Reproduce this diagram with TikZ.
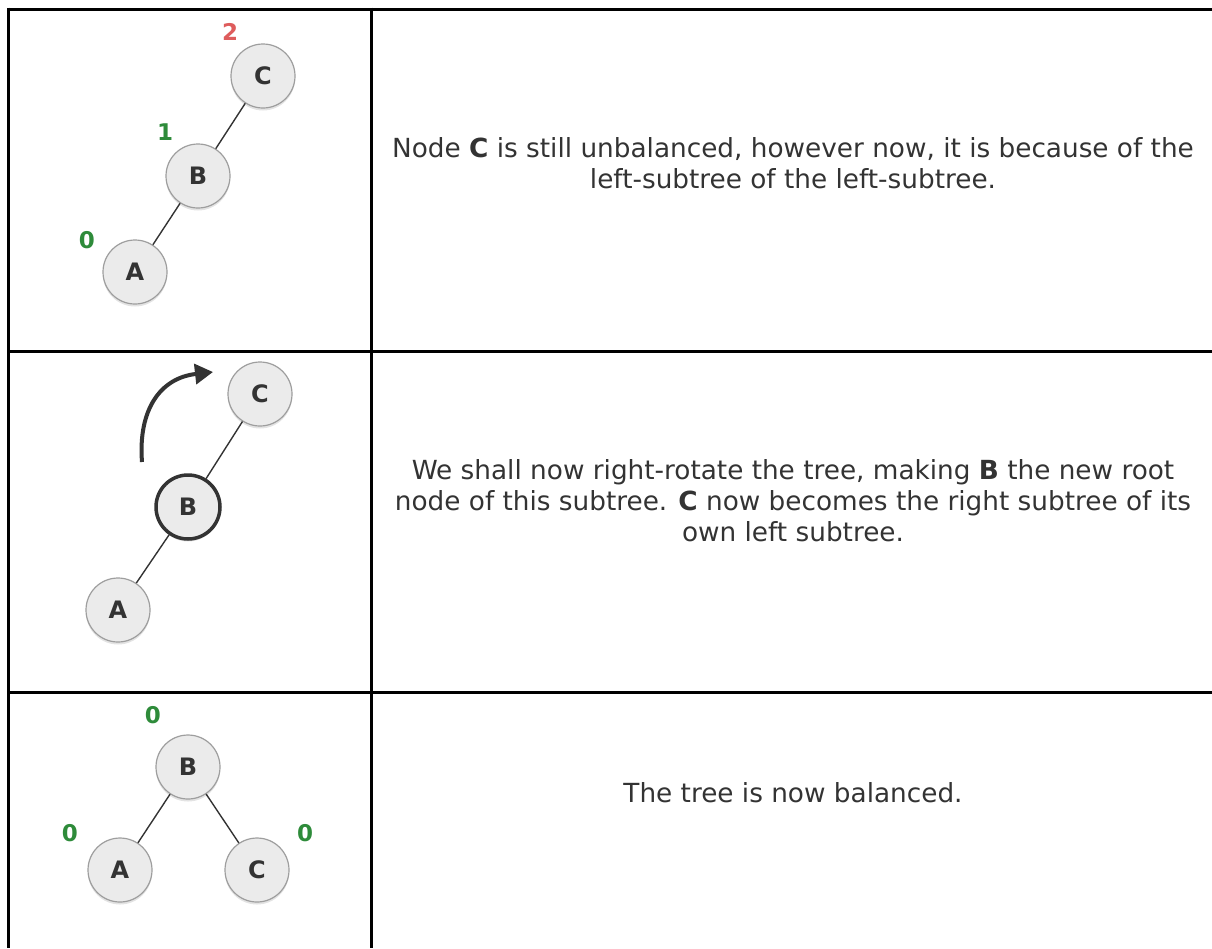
\documentclass[tikz,border=0pt]{standalone}
\usepackage{fontspec}
\setmainfont{DejaVu Sans}
\usetikzlibrary{arrows.meta,shadows}
\definecolor{balgreen}{RGB}{46,139,58}
\definecolor{balred}{RGB}{222,92,92}
\definecolor{inkgray}{RGB}{51,51,51}

\begin{document}
\begin{tikzpicture}[
    x=1pt, y=-1pt,
    vert/.style={circle, draw=black!38, line width=1.2pt, fill=black!8, minimum size=64pt, inner sep=0pt,
                 font=\fontsize{24}{24}\selectfont\bfseries, text=inkgray,
                 drop shadow={shadow xshift=0pt, shadow yshift=-2.5pt, opacity=0.22}},
    pivot/.style={vert, draw=inkgray, line width=3.5pt},
    bal/.style={font=\fontsize{23}{23}\selectfont\bfseries, text=balgreen},
    edge/.style={draw=inkgray, line width=1.4pt},
    rule/.style={line width=3pt},
    desc/.style={align=center, font=\fontsize{26.3}{31}\selectfont, text=inkgray},
    rot/.style={-{Triangle[length=18pt, width=20pt]}, line width=4pt, draw=inkgray}
]
\useasboundingbox (0,0) rectangle (1212,948);

% table rules
\draw[rule] (8,9) -- (1212,9);
\draw[rule] (8,351) -- (1212,351);
\draw[rule] (8,692) -- (1212,692);
\draw[rule] (8,7.5) -- (8,948);
\draw[rule] (371,7.5) -- (371,948);

% row 1: unbalanced
\node[vert] (c1) at (263,76) {C};
\node[vert] (b1) at (198,176) {B};
\node[vert] (a1) at (135,272) {A};
\node[bal, text=balred] (hc1) at (230,32) {2};
\node[bal] (hb1) at (165,132) {1};
\node[bal] (ha1) at (87,240) {0};
\draw[edge] (c1) -- (b1);
\draw[edge] (b1) -- (a1);
\node[desc] (t1) at (793,163) {Node \textbf{C} is still unbalanced, however now, it is because of the\\left-subtree of the left-subtree.};

% row 2: right rotation
\node[vert] (c2) at (260,394) {C};
\node[pivot] (b2) at (188,507) {B};
\node[vert] (a2) at (118,610) {A};
\draw[edge] (c2) -- (b2);
\draw[edge] (b2) -- (a2);
\coordinate (rs) at (142,462);
\coordinate (re) at (213,372);
\draw[rot] (rs) .. controls (138,410) and (160,378) .. (re);
\node[desc] (t2) at (793,501) {We shall now right-rotate the tree, making \textbf{B} the new root\\node of this subtree. \textbf{C} now becomes the right subtree of its\\own left subtree.};

% row 3: balanced
\node[vert] (b3) at (188,767) {B};
\node[vert] (a3) at (120,870) {A};
\node[vert] (c3) at (257,870) {C};
\node[bal] (hb3) at (153,715) {0};
\node[bal] (ha3) at (70,833) {0};
\node[bal] (hc3) at (305,833) {0};
\draw[edge] (b3) -- (a3);
\draw[edge] (b3) -- (c3);
\node[desc] (t3) at (793,793) {The tree is now balanced.};
\end{tikzpicture}
\end{document}
